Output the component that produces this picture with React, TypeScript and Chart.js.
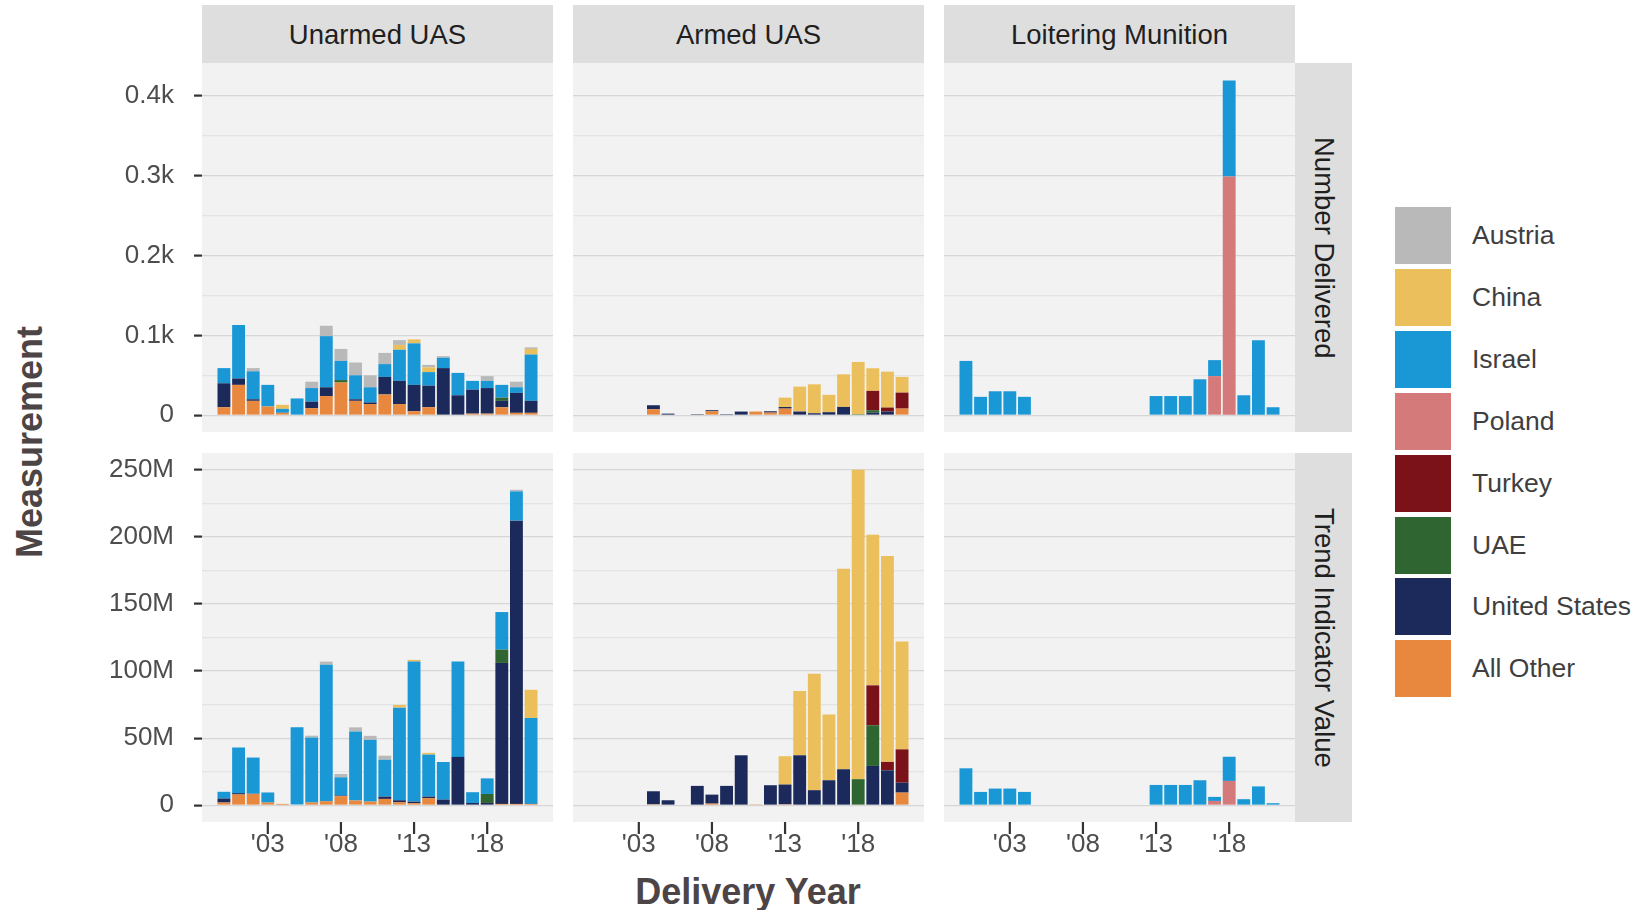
import React, { useEffect, useRef } from 'react';
import { Chart, ChartConfiguration, registerables } from 'chart.js';

Chart.register(...registerables);

// ---- data (delivery years 2000 .. 2021) ----
const YEARS = [
  2000, 2001, 2002, 2003, 2004, 2005, 2006, 2007, 2008, 2009, 2010,
  2011, 2012, 2013, 2014, 2015, 2016, 2017, 2018, 2019, 2020, 2021,
];
const AXIS_YEARS = [1999, ...YEARS, 2022];
const LABELLED_YEARS = [2003, 2008, 2013, 2018];

const NUMBER_TICKS = [0, 50, 100, 150, 200, 250, 300, 350, 400];
const VALUE_TICKS = [0, 25, 50, 75, 100, 125, 150, 175, 200, 225, 250];

const COLUMNS = ['Unarmed UAS', 'Armed UAS', 'Loitering Munition'];
const ROWS = ['Number Delivered', 'Trend Indicator Value'];

// legend order (top to bottom); stacks are drawn in the reverse order
const LEGEND = ['Austria', 'China', 'Israel', 'Poland', 'Turkey', 'UAE', 'United States', 'All Other'];
const STACK_ORDER = ['All Other', 'United States', 'UAE', 'Turkey', 'Poland', 'Israel', 'China', 'Austria'];

const COLORS: Record<string, string> = {
  Austria: '#b9b9b9',
  China: '#ecbf5d',
  Israel: '#1a97d5',
  Poland: '#d47a7a',
  Turkey: '#7b121a',
  UAE: '#2f6530',
  'United States': '#1b2a5b',
  'All Other': '#e8873e',
};

// Unarmed UAS
const unarmedNumber: Record<string, number[]> = {
  'All Other': [10, 38, 18, 11, 3, 0, 9, 24, 41, 18, 14, 26, 14, 5, 10, 0, 0, 2, 2, 10, 3, 3],
  'United States': [30, 8, 2, 0, 0, 0, 8, 11, 0, 2, 2, 22, 29, 33, 27, 59, 25, 30, 32, 8, 25, 15],
  UAE: [0, 0, 0, 0, 0, 0, 0, 0, 3, 0, 0, 0, 0, 0, 0, 0, 0, 0, 0, 4, 0, 0],
  Israel: [19, 67, 35, 27, 5, 21, 17, 64, 24, 30, 19, 16, 39, 52, 17, 13, 28, 11, 9, 16, 7, 58],
  China: [0, 0, 0, 0, 5, 0, 0, 0, 0, 0, 0, 0, 6, 5, 6, 0, 0, 0, 0, 0, 0, 7],
  Austria: [0, 0, 4, 0, 0, 0, 8, 13, 15, 16, 15, 14, 6, 0, 3, 2, 0, 0, 6, 0, 7, 2],
};
const unarmedValue: Record<string, number[]> = {
  'All Other': [2, 8, 8.5, 2, 1, 0, 2, 3, 6.7, 3.5, 2.7, 4.7, 2.2, 1.5, 5.2, 0, 0, 0, 0, 1, 1, 1],
  'United States': [3, 1, 0, 0, 0, 0, 0, 0, 0.5, 0, 0, 1.7, 1.5, 1.2, 1.2, 4.2, 36, 1.7, 1.7, 105, 211, 0],
  UAE: [0, 0, 0, 0, 0, 0, 0, 0, 0, 0, 0, 0, 0, 0, 0, 0, 0, 0, 6.7, 9.9, 0, 0],
  Israel: [5, 34, 27, 7.5, 0, 58, 48.5, 101.6, 13.6, 51.5, 46, 27.5, 69, 104.3, 31.3, 28, 71, 8, 11.6, 28, 21.8, 64],
  China: [0, 0, 0, 0, 0, 0, 0, 0, 0, 0, 0, 0, 2, 1.3, 1.3, 0, 0, 0, 0, 0, 0, 21],
  Austria: [0, 0, 0, 0, 0, 0, 1.3, 2.4, 2.5, 3, 3, 3, 0, 0, 0, 0, 0, 0, 0, 0, 1.2, 0],
};

// Armed UAS
const armedNumber: Record<string, number[]> = {
  'All Other': [0, 0, 0, 0, 7.5, 0, 0, 0, 5, 0, 0, 4.6, 3.3, 8.3, 0, 0, 0, 0, 0, 0, 0, 8.3],
  'United States': [0, 0, 0, 0, 5, 2, 0, 1.3, 1.3, 1.3, 4.6, 0, 1.7, 2, 4.6, 2.5, 3.8, 10.4, 0, 3.3, 4.6, 0],
  UAE: [0, 0, 0, 0, 0, 0, 0, 0, 0, 0, 0, 0, 0, 0, 0, 0, 0, 0, 1.3, 3, 0, 0],
  Turkey: [0, 0, 0, 0, 0, 0, 0, 0, 0, 0, 0, 0, 0, 0, 0, 0, 0, 0, 0, 24.2, 5, 20],
  China: [0, 0, 0, 0, 0, 0, 0, 0, 0, 0, 0, 0, 0, 11.7, 31.2, 36.2, 21.7, 40.8, 65.4, 28.3, 45, 19.7],
};
const armedValue: Record<string, number[]> = {
  'All Other': [0, 0, 0, 0, 0.7, 0, 0, 0, 1.2, 0, 0, 0.7, 0, 0.7, 0, 0, 0, 0, 0, 0, 0, 9.4],
  'United States': [0, 0, 0, 0, 9.7, 3.7, 0, 14.4, 6.7, 14.4, 37.2, 0, 14.9, 14.7, 37.2, 11.2, 18.6, 26.8, 0, 29.3, 26, 7.4],
  UAE: [0, 0, 0, 0, 0, 0, 0, 0, 0, 0, 0, 0, 0, 0, 0, 0, 0, 0, 19.4, 30.3, 0, 0],
  Turkey: [0, 0, 0, 0, 0, 0, 0, 0, 0, 0, 0, 0, 0, 0, 0, 0, 0, 0, 0, 29.7, 6.3, 24.8],
  China: [0, 0, 0, 0, 0, 0, 0, 0, 0, 0, 0, 0, 0, 21.1, 47.9, 86.8, 48.9, 149.4, 230.5, 112.2, 153.3, 80.3],
};

// Loitering Munition
const loiteringNumber: Record<string, number[]> = {
  Poland: [0, 0, 0, 0, 0, 0, 0, 0, 0, 0, 0, 0, 0, 0, 0, 0, 0, 49, 299, 0, 0, 0],
  Israel: [68, 23, 30, 30, 23, 0, 0, 0, 0, 0, 0, 0, 0, 24, 24, 24, 45, 20, 120, 25, 94, 10],
};
const loiteringValue: Record<string, number[]> = {
  Poland: [0, 0, 0, 0, 0, 0, 0, 0, 0, 0, 0, 0, 0, 0, 0, 0, 0, 3.2, 18.1, 0, 0, 0],
  Israel: [27.5, 9.9, 12.4, 12.4, 9.9, 0, 0, 0, 0, 0, 0, 0, 0, 15.1, 15.1, 15.1, 18.6, 3, 18, 4.5, 14, 1.5],
};

const PANELS = [
  [unarmedNumber, armedNumber, loiteringNumber],
  [unarmedValue, armedValue, loiteringValue],
];

// ---- layout ----
const FONT = "'Liberation Sans', Arial, sans-serif";
const COL_LEFT = [202, 573, 944];
const PANEL_W = 351;
const ROW_TOP = [63, 453];
const PANEL_H = 369;
const X_AXIS_H = 50;
const PANEL_BG = '#f2f2f2';
const STRIP_BG = '#dedede';

const Y_RANGE = [
  { min: -21, max: 441 },
  { min: -12.5, max: 262.4 },
];

const panelDecor = {
  id: 'panelDecor',
  beforeDraw(chart: Chart) {
    const { ctx, chartArea: a } = chart;
    ctx.save();
    ctx.fillStyle = PANEL_BG;
    ctx.fillRect(a.left, a.top, a.right - a.left, a.bottom - a.top);
    ctx.restore();
  },
  // ggplot-style x ticks, drawn over the labels
  afterDraw(chart: Chart, _args: unknown, opts: { ticks?: boolean }) {
    if (!opts.ticks) return;
    const { ctx, chartArea: a } = chart;
    const xs = chart.scales.x;
    ctx.save();
    ctx.strokeStyle = '#333333';
    ctx.lineWidth = 2.2;
    LABELLED_YEARS.forEach((yr) => {
      const px = xs.getPixelForValue(AXIS_YEARS.indexOf(yr));
      ctx.beginPath();
      ctx.moveTo(px, a.bottom);
      ctx.lineTo(px, a.bottom + 12);
      ctx.stroke();
    });
    ctx.restore();
  },
};

interface PanelProps {
  series: Record<string, number[]>;
  row: number;
  col: number;
}

function Panel({ series, row, col }: PanelProps) {
  const canvasRef = useRef<HTMLCanvasElement>(null);
  const yAxisW = col === 0 ? COL_LEFT[0] : 0;
  const xAxisH = row === 1 ? X_AXIS_H : 0;
  const width = PANEL_W + yAxisW;
  const height = PANEL_H + xAxisH;
  const left = col === 0 ? 0 : COL_LEFT[col];

  useEffect(() => {
    if (!canvasRef.current) return;
    const ticks = row === 0 ? NUMBER_TICKS : VALUE_TICKS;
    const majorStep = row === 0 ? 100 : 50;

    const datasets = STACK_ORDER.filter((name) => series[name]).map((name) => ({
      label: name,
      data: [null, ...series[name].map((v) => (v > 0 ? v : null)), null],
      backgroundColor: COLORS[name],
      borderWidth: 0,
      barPercentage: 0.88,
      categoryPercentage: 1,
      stack: 'all',
    }));

    const config: ChartConfiguration = {
      type: 'bar',
      data: { labels: AXIS_YEARS.map(String), datasets: datasets as any },
      plugins: [panelDecor as any],
      options: {
        responsive: false,
        maintainAspectRatio: false,
        animation: false,
        layout: { padding: 0 },
        plugins: {
          legend: { display: false },
          tooltip: { enabled: false },
          panelDecor: { ticks: row === 1 },
        } as any,
        scales: {
          x: {
            type: 'category',
            stacked: true,
            offset: true,
            display: row === 1,
            grid: { display: false, drawTicks: false },
            border: { display: false },
            ticks: {
              autoSkip: false,
              maxRotation: 0,
              minRotation: 0,
              padding: 7,
              color: '#4d4d4d',
              font: { family: FONT, size: 26 },
              callback: (_v: any, i: number) =>
                LABELLED_YEARS.includes(AXIS_YEARS[i]) ? "'" + String(AXIS_YEARS[i]).slice(2) : '',
            },
            afterFit: (s: any) => {
              s.height = xAxisH;
              s.paddingLeft = 0;
              s.paddingRight = 0;
            },
          },
          y: {
            type: 'linear',
            stacked: true,
            min: Y_RANGE[row].min,
            max: Y_RANGE[row].max,
            afterBuildTicks: (s: any) => {
              s.ticks = ticks.map((v) => ({ value: v }));
            },
            border: { display: false },
            grid: {
              color: (ctx: any) => (ctx.tick && ctx.tick.value % majorStep === 0 ? '#d6d6d6' : '#e3e3e3'),
              lineWidth: 1.2,
              drawTicks: col === 0,
              tickLength: 8,
              tickWidth: 2.2,
              tickColor: (ctx: any) =>
                ctx.tick && ctx.tick.value % majorStep === 0 ? '#333333' : 'rgba(0,0,0,0)',
            },
            ticks: {
              display: col === 0,
              padding: 20,
              color: '#4d4d4d',
              font: { family: FONT, size: 26 },
              callback: (v: any) => {
                const n = Number(v);
                if (n % majorStep !== 0) return '';
                if (n === 0) return '0';
                return row === 0 ? `${n / 1000}k` : `${n}M`;
              },
            },
            afterFit: (s: any) => {
              s.width = yAxisW;
              s.paddingTop = 0;
              s.paddingBottom = 0;
            },
          },
        },
      },
    };

    const chart = new Chart(canvasRef.current, config);
    return () => chart.destroy();
  }, [series, row, col]);

  return (
    <canvas
      ref={canvasRef}
      width={width}
      height={height}
      style={{ position: 'absolute', left, top: ROW_TOP[row], width, height }}
    />
  );
}

export default function App() {
  return (
    <div
      style={{
        position: 'absolute',
        left: 0,
        top: 0,
        width: 1637,
        height: 910,
        background: '#ffffff',
        overflow: 'hidden',
        fontFamily: FONT,
      }}
    >
      {/* axis titles */}
      <div
        style={{
          position: 'absolute',
          left: 30,
          top: 442,
          transform: 'translate(-50%, -50%) rotate(-90deg)',
          fontWeight: 'bold',
          fontSize: 36,
          color: '#4d4545',
          whiteSpace: 'nowrap',
        }}
      >
        Measurement
      </div>
      <div
        style={{
          position: 'absolute',
          left: 748,
          top: 892,
          transform: 'translate(-50%, -50%)',
          fontWeight: 'bold',
          fontSize: 36,
          color: '#4d4545',
          whiteSpace: 'nowrap',
        }}
      >
        Delivery Year
      </div>

      {/* column strips */}
      {COLUMNS.map((name, c) => (
        <div
          key={name}
          style={{
            position: 'absolute',
            left: COL_LEFT[c],
            top: 5,
            width: PANEL_W,
            height: ROW_TOP[0] - 5,
            background: STRIP_BG,
            display: 'flex',
            alignItems: 'center',
            justifyContent: 'center',
            fontSize: 27.5,
            color: '#1f1f1f',
            paddingTop: 2,
            boxSizing: 'border-box',
          }}
        >
          {name}
        </div>
      ))}

      {/* row strips */}
      {ROWS.map((name, r) => (
        <div
          key={name}
          style={{
            position: 'absolute',
            left: COL_LEFT[2] + PANEL_W,
            top: ROW_TOP[r],
            width: 57,
            height: PANEL_H,
            background: STRIP_BG,
            display: 'flex',
            alignItems: 'center',
            justifyContent: 'center',
            fontSize: 27.5,
            color: '#1f1f1f',
            writingMode: 'vertical-rl',
          }}
        >
          {name}
        </div>
      ))}

      {/* panels */}
      {PANELS.map((rowPanels, r) =>
        rowPanels.map((series, c) => <Panel key={`${r}-${c}`} series={series} row={r} col={c} />)
      )}

      {/* legend */}
      {LEGEND.map((name, i) => (
        <div key={name}>
          <div
            style={{
              position: 'absolute',
              left: 1395,
              top: 207 + i * 61.9,
              width: 56,
              height: 57,
              background: COLORS[name],
            }}
          />
          <div
            style={{
              position: 'absolute',
              left: 1472,
              top: 207 + i * 61.9,
              height: 57,
              display: 'flex',
              alignItems: 'center',
              fontSize: 26.5,
              color: '#3f3f3f',
              whiteSpace: 'nowrap',
            }}
          >
            {name}
          </div>
        </div>
      ))}
    </div>
  );
}
